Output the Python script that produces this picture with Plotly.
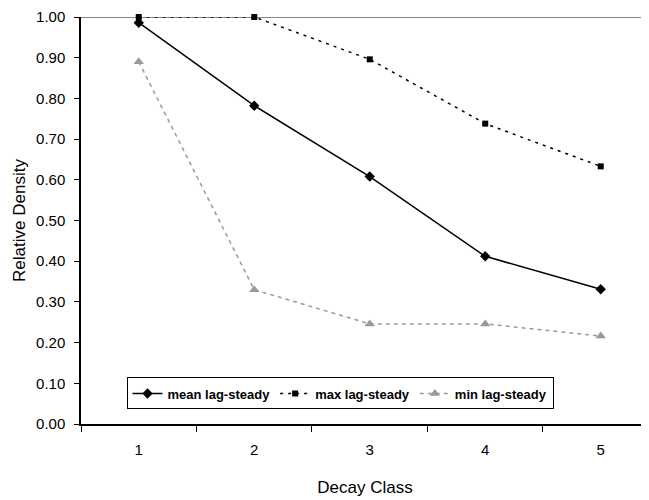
import plotly.graph_objects as go

decay_class = [1, 2, 3, 4, 5]
mean_lag = [0.986, 0.782, 0.608, 0.412, 0.331]
max_lag = [1.0, 1.0, 0.896, 0.738, 0.633]
min_lag = [0.89, 0.33, 0.246, 0.246, 0.216]
y_ticks = [0.0, 0.1, 0.2, 0.3, 0.4, 0.5, 0.6, 0.7, 0.8, 0.9, 1.0]

FONT = "Liberation Sans, Arial, sans-serif"

fig = go.Figure()
fig.add_trace(go.Scatter(
    x=decay_class, y=mean_lag, name="mean lag-steady", mode="lines+markers",
    line=dict(color="black", width=1.5), cliponaxis=False,
    marker=dict(symbol="diamond", size=8, color="black")))
fig.add_trace(go.Scatter(
    x=decay_class, y=max_lag, name="max lag-steady", mode="lines+markers",
    line=dict(color="black", width=1.5, dash="3px,5px"), cliponaxis=False,
    marker=dict(symbol="square", size=6, color="black")))
fig.add_trace(go.Scatter(
    x=decay_class, y=min_lag, name="min lag-steady", mode="lines+markers",
    line=dict(color="#999999", width=1.5, dash="4px,4px"), cliponaxis=False,
    marker=dict(symbol="triangle-up", size=9, color="#999999")))

fig.add_shape(type="line", xref="paper", yref="y", x0=0, x1=1, y0=1, y1=1,
              line=dict(color="#888888", width=2), layer="below")

fig.update_layout(
    width=641, height=492,
    margin=dict(l=73, r=0, t=9, b=76),
    plot_bgcolor="white", paper_bgcolor="white",
    font=dict(family=FONT, size=15, color="black"),
    showlegend=True,
    legend=dict(orientation="h", x=0.456, y=0.075, xanchor="center", yanchor="middle",
                bordercolor="black", borderwidth=1, bgcolor="white",
                font=dict(family=FONT, size=13, color="black", weight="bold"),
                itemwidth=30, tracegroupgap=0),
    xaxis=dict(range=[0.5, 5.418], tickvals=decay_class, ticktext=[str(v) for v in decay_class],
               ticks="", showgrid=False, zeroline=False, automargin=False,
               showline=True, linecolor="black", linewidth=1.5,
               minor=dict(tickvals=[0.5, 1.5, 2.5, 3.5, 4.5], ticks="outside", ticklen=6,
                          tickcolor="black", tickwidth=1, showgrid=False),
               ticklabelstandoff=11, ticklabeloverflow="allow",
               title=dict(text="Decay Class", standoff=24, font=dict(size=17))),
    yaxis=dict(range=[0, 1], tickmode="array", tickvals=y_ticks,
               ticktext=[f"{v:.2f}" for v in y_ticks],
               ticks="outside", ticklen=5, tickcolor="black", tickwidth=1,
               showgrid=False, zeroline=False, automargin=False,
               showline=True, linecolor="black", linewidth=1.5,
               ticklabelstandoff=6, ticklabeloverflow="allow",
               title=dict(text="Relative Density", standoff=6, font=dict(size=17))),
)

fig.write_html("out.html")
